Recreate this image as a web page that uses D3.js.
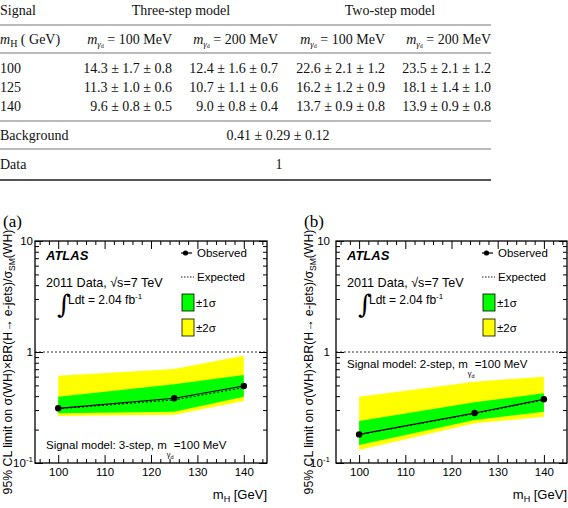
<!DOCTYPE html>
<html><head><meta charset="utf-8">
<script src="https://cdn.jsdelivr.net/npm/d3@7"></script>
<style>
body{margin:0;background:#fff;}
svg{display:block;}
</style></head>
<body>
<svg id="c" width="568" height="508"></svg>
<script>
// ---------- Table data ----------
const tableGroups = ["Three-step model", "Two-step model"];
const tableDarkMass = ["100", "200", "100", "200"];
const tableRowLabels = ["100", "125", "140"];
const tableValues = [
  ["14.3 ± 1.7 ± 0.8", "12.4 ± 1.6 ± 0.7", "22.6 ± 2.1 ± 1.2", "23.5 ± 2.1 ± 1.2"],
  ["11.3 ± 1.0 ± 0.6", "10.7 ± 1.1 ± 0.6", "16.2 ± 1.2 ± 0.9", "18.1 ± 1.4 ± 1.0"],
  ["9.6 ± 0.8 ± 0.5", "9.0 ± 0.8 ± 0.4", "13.7 ± 0.9 ± 0.8", "13.9 ± 0.9 ± 0.8"]
];
const backgroundValue = "0.41 ± 0.29 ± 0.12";
const dataValue = "1";

// ---------- Plot data ----------
const massPoints = [100, 125, 140];
const xTicks = [100, 110, 120, 130, 140];
const xTickLabels = ["100", "110", "120", "130", "140"];
const yTicks = [0.1, 1, 10];
const yTickLabels = ["10", "1", "10"];
// (a) 3-step
const obsA = [0.311, 0.383, 0.494];
const expA = [0.308, 0.370, 0.478];
const s1LoA = [0.280, 0.290, 0.396];
const s1HiA = [0.396, 0.512, 0.621];
const s2LoA = [0.265, 0.272, 0.362];
const s2HiA = [0.612, 0.703, 0.926];
// (b) 2-step
const obsB = [0.181, 0.282, 0.375];
const expB = [0.180, 0.278, 0.370];
const s1LoB = [0.145, 0.244, 0.290];
const s1HiB = [0.239, 0.352, 0.425];
const s2LoB = [0.131, 0.228, 0.261];
const s2HiB = [0.396, 0.540, 0.600];

const svg = d3.select("#c");
const SERIF = "'Liberation Serif','Times New Roman',serif";
const SANS = "'Liberation Sans',Arial,Helvetica,sans-serif";

// ---------- Table ----------
const T = svg.append("g").attr("font-family", SERIF).attr("font-size", 14).attr("fill", "#111");
const colRight = [172, 278, 385, 491];
T.append("text").attr("x", 0).attr("y", 15).text("Signal");
T.append("text").attr("x", 181).attr("y", 15).attr("text-anchor", "middle").text(tableGroups[0]);
T.append("text").attr("x", 390).attr("y", 15).attr("text-anchor", "middle").text(tableGroups[1]);
const hl = (y, w, c) => T.append("line").attr("x1", 0).attr("x2", 491).attr("y1", y).attr("y2", y).attr("stroke", c || "#777").attr("stroke-width", w || 1.2);
hl(25);
const mh = T.append("text").attr("x", 0).attr("y", 44);
mh.append("tspan").attr("font-style", "italic").text("m");
mh.append("tspan").attr("font-size", 10).attr("dy", 3).text("H");
mh.append("tspan").attr("dy", -3).text(" ( GeV)");
tableDarkMass.forEach((m, i) => {
  const t = T.append("text").attr("x", colRight[i]).attr("y", 44).attr("text-anchor", "end");
  t.append("tspan").attr("font-style", "italic").text("m");
  t.append("tspan").attr("font-style", "italic").attr("font-size", 9).attr("dy", 3).text("γ");
  t.append("tspan").attr("font-size", 6).attr("dy", 1).text("d");
  t.append("tspan").attr("dy", -4).text(" = " + m + " MeV");
});
hl(53);
const rowY = [73, 92, 111];
tableRowLabels.forEach((r, i) => {
  T.append("text").attr("x", 0).attr("y", rowY[i]).text(r);
  tableValues[i].forEach((v, j) => {
    T.append("text").attr("x", colRight[j]).attr("y", rowY[i]).attr("text-anchor", "end").text(v);
  });
});
hl(121);
T.append("text").attr("x", 0).attr("y", 140).text("Background");
T.append("text").attr("x", 278).attr("y", 140).attr("text-anchor", "middle").text(backgroundValue);
hl(149);
T.append("text").attr("x", 0).attr("y", 169).text("Data");
T.append("text").attr("x", 279).attr("y", 169).attr("text-anchor", "middle").text(dataValue);
hl(180, 1.8, "#555");

// ---------- Plots ----------
function drawPlot(cfg) {
  const {left, right, top, bottom, label, obs, exp, s1Lo, s1Hi, s2Lo, s2Hi, model, modelY, modelX, yLabelGap} = cfg;
  const g = svg.append("g");
  const x = d3.scaleLinear().domain([95, 145]).range([left, right]);
  const y = d3.scaleLog().domain([0.1, 10]).range([bottom, top]);

  g.append("text").attr("x", left - 32).attr("y", 227).attr("font-family", SERIF).attr("font-size", 17).text(label);

  const area = (lo, hi) => d3.area().x((d, i) => x(massPoints[i])).y0((d, i) => y(lo[i])).y1((d, i) => y(hi[i]));
  g.append("path").datum(massPoints).attr("d", area(s2Lo, s2Hi)).attr("fill", "#ffff00");
  g.append("path").datum(massPoints).attr("d", area(s1Lo, s1Hi)).attr("fill", "#00ff00");

  // y = 1 line
  g.append("line").attr("x1", left).attr("x2", right).attr("y1", y(1)).attr("y2", y(1))
    .attr("stroke", "#000").attr("stroke-width", 0.8).attr("stroke-dasharray", "2,2");

  const line = arr => d3.line().x((d, i) => x(massPoints[i])).y((d, i) => y(arr[i]));
  g.append("path").datum(massPoints).attr("d", line(exp)).attr("fill", "none")
    .attr("stroke", "#000").attr("stroke-width", 1).attr("stroke-dasharray", "2,2");
  g.append("path").datum(massPoints).attr("d", line(obs)).attr("fill", "none")
    .attr("stroke", "#000").attr("stroke-width", 1.2);
  g.selectAll("circle.obs").data(massPoints).join("circle").attr("class", "obs")
    .attr("cx", d => x(d)).attr("cy", (d, i) => y(obs[i])).attr("r", 3.2).attr("fill", "#000");

  // axes (ticks inward)
  const ax = g.append("g");
  const minorX = d3.range(96, 145, 2).filter(v => v % 10 !== 0);
  ax.append("g").attr("transform", `translate(0,${bottom})`)
    .call(d3.axisBottom(x).tickValues(minorX).tickSize(-4).tickFormat(""));
  ax.append("g").attr("transform", `translate(0,${top})`)
    .call(d3.axisTop(x).tickValues(xTicks).tickSize(-8).tickFormat(""));
  ax.append("g").attr("transform", `translate(0,${top})`)
    .call(d3.axisTop(x).tickValues(minorX).tickSize(-4).tickFormat(""));
  const yMinor = [];
  [0.1, 1].forEach(b => { for (let k = 2; k <= 9; k++) yMinor.push(b * k); });
  ax.append("g").attr("transform", `translate(${left},0)`)
    .call(d3.axisLeft(y).tickValues(yTicks).tickSize(-8).tickFormat(""));
  ax.append("g").attr("transform", `translate(${left},0)`)
    .call(d3.axisLeft(y).tickValues(yMinor).tickSize(-4).tickFormat(""));
  ax.append("g").attr("transform", `translate(${right},0)`)
    .call(d3.axisRight(y).tickValues(yTicks).tickSize(-8).tickFormat(""));
  ax.append("g").attr("transform", `translate(${right},0)`)
    .call(d3.axisRight(y).tickValues(yMinor).tickSize(-4).tickFormat(""));
  ax.selectAll(".tick text").remove();
  // bottom major axis with labels
  const bx = ax.append("g").attr("class", "xmajor").attr("transform", `translate(0,${bottom})`)
    .call(d3.axisBottom(x).tickValues(xTicks).tickSize(-8).tickPadding(5)
      .tickFormat((d, i) => xTickLabels[i]));
  bx.selectAll("text").attr("y", 13).attr("dy", null).attr("font-family", SANS)
    .attr("font-size", 11.5).attr("fill", "#000");
  ax.selectAll(".domain").remove();
  ax.selectAll(".tick line").attr("stroke", "#000").attr("stroke-width", 1);

  // y labels
  yTicks.forEach((v, i) => {
    const t = g.append("text").attr("x", left - yLabelGap).attr("y", y(v) + 4)
      .attr("text-anchor", "end").attr("font-family", SANS).attr("font-size", 11.5);
    t.append("tspan").text(yTickLabels[i]);
    if (v === 0.1) t.append("tspan").attr("font-size", 8).attr("dy", -5).text("-1");
  });

  // frame
  g.append("rect").attr("x", left).attr("y", top).attr("width", right - left).attr("height", bottom - top)
    .attr("fill", "none").attr("stroke", "#000").attr("stroke-width", 1.3);

  // axis titles
  const xt = g.append("text").attr("x", right).attr("y", 499).attr("text-anchor", "end")
    .attr("font-family", SANS).attr("font-size", 13);
  xt.append("tspan").text("m");
  xt.append("tspan").attr("font-size", 9).attr("dy", 3).text("H");
  xt.append("tspan").attr("dy", -3).text(" [GeV]");

  const yt = g.append("text").attr("transform", `translate(${left - 23},${362}) rotate(-90)`)
    .attr("text-anchor", "middle").attr("font-family", SANS).attr("font-size", 12.3);
  yt.append("tspan").text("95% CL limit on σ(WH)×BR(H→ e-jets)/σ");
  yt.append("tspan").attr("font-size", 8.5).attr("dy", 3).text("SM");
  yt.append("tspan").attr("dy", -3).text("(WH)");

  // labels in plot
  const tx = left + 11;
  g.append("text").attr("x", tx).attr("y", 260).attr("font-family", SANS).attr("font-size", 13)
    .attr("font-weight", "bold").attr("font-style", "italic").text("ATLAS");
  g.append("text").attr("x", tx).attr("y", 287).attr("font-family", SANS).attr("font-size", 12.6)
    .text("2011 Data, √s=7 TeV");
  g.append("text").attr("x", left + 22).attr("y", 313).attr("font-family", "'DejaVu Serif',serif").attr("font-size", 26)
    .text("∫");
  const ld = g.append("text").attr("x", left + 33).attr("y", 304).attr("font-family", SANS).attr("font-size", 12);
  ld.append("tspan").text("Ldt = 2.04 fb");
  ld.append("tspan").attr("font-size", 8).attr("dy", -5).text("-1");

  // legend
  const lx = left + 146;
  g.append("line").attr("x1", lx).attr("x2", lx + 11).attr("y1", 253).attr("y2", 253).attr("stroke", "#000").attr("stroke-width", 1.2);
  g.append("circle").attr("cx", lx + 4.5).attr("cy", 253).attr("r", 2.6).attr("fill", "#000");
  g.append("text").attr("x", lx + 16).attr("y", 257).attr("font-family", SANS).attr("font-size", 11.5).text("Observed");
  g.append("line").attr("x1", lx).attr("x2", lx + 13).attr("y1", 277).attr("y2", 277).attr("stroke", "#000").attr("stroke-width", 0.9).attr("stroke-dasharray", "1.5,1.5");
  g.append("text").attr("x", lx + 16).attr("y", 281).attr("font-family", SANS).attr("font-size", 11.5).text("Expected");
  g.append("rect").attr("x", lx + 1).attr("y", 294).attr("width", 12).attr("height", 17).attr("fill", "#00ff00").attr("stroke", "#000").attr("stroke-width", 0.8);
  g.append("text").attr("x", lx + 15).attr("y", 307).attr("font-family", SANS).attr("font-size", 11.5).text("±1σ");
  g.append("rect").attr("x", lx + 1).attr("y", 319).attr("width", 12).attr("height", 17).attr("fill", "#ffff00").attr("stroke", "#000").attr("stroke-width", 0.8);
  g.append("text").attr("x", lx + 15).attr("y", 332).attr("font-family", SANS).attr("font-size", 11.5).text("±2σ");

  // signal model
  const sm = g.append("text").attr("x", modelX).attr("y", modelY).attr("font-family", SANS).attr("font-size", 11.5);
  sm.append("tspan").text(`Signal model: ${model}, m`);
  sm.append("tspan").attr("font-size", 7.5).attr("dy", 8).text("γ");
  sm.append("tspan").attr("font-size", 5.5).attr("dy", 1.5).text("d");
  sm.append("tspan").attr("dy", -9.5).text("=100 MeV");
}

drawPlot({left: 35, right: 267, top: 241, bottom: 463, label: "(a)", obs: obsA, exp: expA,
  s1Lo: s1LoA, s1Hi: s1HiA, s2Lo: s2LoA, s2Hi: s2HiA, model: "3-step", modelX: 46, modelY: 449, yLabelGap: 2});
drawPlot({left: 336, right: 567, top: 241, bottom: 463, label: "(b)", obs: obsB, exp: expB,
  s1Lo: s1LoB, s1Hi: s1HiB, s2Lo: s2LoB, s2Hi: s2HiB, model: "2-step", modelX: 347, modelY: 368, yLabelGap: 6});
</script>
</body></html>
